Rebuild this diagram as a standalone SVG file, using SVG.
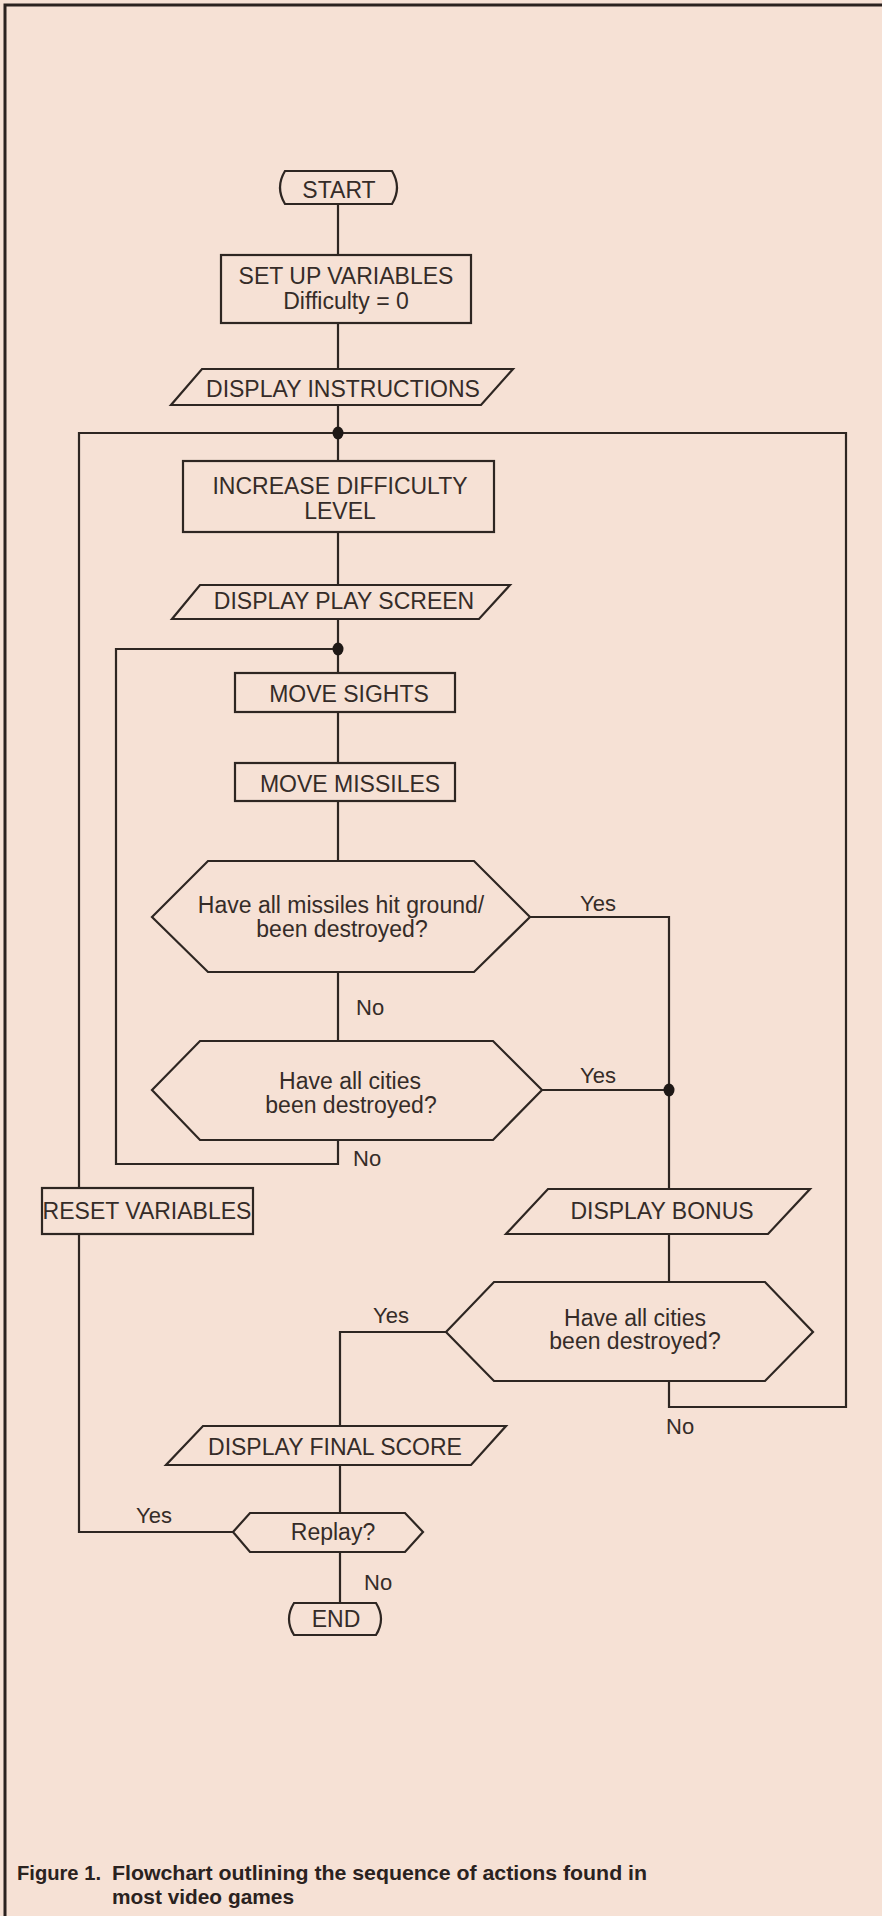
<svg xmlns="http://www.w3.org/2000/svg" width="882" height="1916" viewBox="0 0 882 1916">
<style>
.bg{fill:#f6e1d5}
.shape{fill:none;stroke:#2e2622;stroke-width:2.2;stroke-linejoin:miter}
.conn{fill:none;stroke:#2e2622;stroke-width:2.2}
.dot{fill:#1e1816}
.t{font-family:"Liberation Sans",Arial,sans-serif;font-size:23px;fill:#352c28;text-anchor:middle}
.lbl{font-family:"Liberation Sans",Arial,sans-serif;font-size:22px;fill:#352c28}
.cap{font-family:"Liberation Sans",Arial,sans-serif;font-size:21px;font-weight:bold;fill:#2a2220}
.frame{fill:none;stroke:#2a2220;stroke-width:3}
</style>
<rect class="bg" x="0" y="0" width="882" height="1916"/>
<path class="frame" d="M5,1916 V5 H882"/>

<g id="connectors">
  <path class="conn" d="M338,204 V255"/>
  <path class="conn" d="M338,323 V369"/>
  <path class="conn" d="M338,405 V461"/>
  <path class="conn" d="M338,532 V585"/>
  <path class="conn" d="M338,619 V673"/>
  <path class="conn" d="M338,712 V763"/>
  <path class="conn" d="M338,801 V861"/>
  <path class="conn" d="M338,972 V1041"/>
  <path class="conn" d="M338,1140 V1164 H116 V649 H338"/>
  <path class="conn" d="M530,917 H669 V1189"/>
  <path class="conn" d="M542,1090 H669"/>
  <path class="conn" d="M669,1234 V1282"/>
  <path class="conn" d="M669,1381 V1407 H846 V433 H79 V1188"/>
  <path class="conn" d="M79,1234 V1532 H233"/>
  <path class="conn" d="M446,1332 H340 V1426"/>
  <path class="conn" d="M340,1465 V1513"/>
  <path class="conn" d="M340,1552 V1603"/>
  <ellipse class="dot" cx="338" cy="433" rx="5.5" ry="6.5"/>
  <ellipse class="dot" cx="338" cy="649" rx="5.5" ry="6.5"/>
  <ellipse class="dot" cx="669" cy="1090" rx="5.5" ry="6.5"/>
  <text class="lbl" x="356" y="1015">No</text>
  <text class="lbl" x="353" y="1166">No</text>
  <text class="lbl" x="580" y="911">Yes</text>
  <text class="lbl" x="580" y="1083">Yes</text>
  <text class="lbl" x="666" y="1434">No</text>
  <text class="lbl" x="373" y="1323">Yes</text>
  <text class="lbl" x="136" y="1523">Yes</text>
  <text class="lbl" x="364" y="1590">No</text>
</g>

<g id="start">
  <path class="shape" d="M285,171 H392 Q402,187.5 392,204 H285 Q275,187.5 285,171 Z"/>
  <text class="t" x="339" y="198">START</text>
</g>
<g id="setup">
  <rect class="shape" x="221" y="255" width="250" height="68"/>
  <text class="t" x="346" y="284">SET UP VARIABLES</text>
  <text class="t" x="346" y="309">Difficulty = 0</text>
</g>
<g id="display-instructions">
  <polygon class="shape" points="202,369 513,369 481,405 171,405"/>
  <text class="t" x="343" y="397">DISPLAY INSTRUCTIONS</text>
</g>
<g id="increase-difficulty">
  <rect class="shape" x="183" y="461" width="311" height="71"/>
  <text class="t" x="340" y="494">INCREASE DIFFICULTY</text>
  <text class="t" x="340" y="519">LEVEL</text>
</g>
<g id="display-play-screen">
  <polygon class="shape" points="200,585 510,585 479,619 172,619"/>
  <text class="t" x="344" y="609">DISPLAY PLAY SCREEN</text>
</g>
<g id="move-sights">
  <rect class="shape" x="235" y="673" width="220" height="39"/>
  <text class="t" x="349" y="702">MOVE SIGHTS</text>
</g>
<g id="move-missiles">
  <rect class="shape" x="235" y="763" width="220" height="38"/>
  <text class="t" x="350" y="792">MOVE MISSILES</text>
</g>
<g id="missiles-done">
  <polygon class="shape" points="152,917 208,861 474,861 530,917 474,972 208,972"/>
  <text class="t" x="341" y="913">Have all missiles hit ground/</text>
  <text class="t" x="342" y="937">been destroyed?</text>
</g>
<g id="cities-destroyed-1">
  <polygon class="shape" points="152,1090 200,1041 493,1041 542,1090 493,1140 200,1140"/>
  <text class="t" x="350" y="1089">Have all cities</text>
  <text class="t" x="351" y="1113">been destroyed?</text>
</g>
<g id="reset-variables">
  <rect class="shape" x="42" y="1188" width="211" height="46"/>
  <text class="t" x="147" y="1219">RESET VARIABLES</text>
</g>
<g id="display-bonus">
  <polygon class="shape" points="548,1189 810,1189 768,1234 506,1234"/>
  <text class="t" x="662" y="1219">DISPLAY BONUS</text>
</g>
<g id="cities-destroyed-2">
  <polygon class="shape" points="446,1332 494,1282 765,1282 813,1332 765,1381 494,1381"/>
  <text class="t" x="635" y="1326">Have all cities</text>
  <text class="t" x="635" y="1349">been destroyed?</text>
</g>
<g id="display-final-score">
  <polygon class="shape" points="203,1426 506,1426 471,1465 166,1465"/>
  <text class="t" x="335" y="1455">DISPLAY FINAL SCORE</text>
</g>
<g id="replay">
  <polygon class="shape" points="233,1532 250,1513 405,1513 423,1532 405,1552 250,1552"/>
  <text class="t" x="333" y="1540">Replay?</text>
</g>
<g id="end">
  <path class="shape" d="M294,1603 H376 Q386,1619 376,1635 H294 Q284,1619 294,1603 Z"/>
  <text class="t" x="336" y="1627">END</text>
</g>

<g id="caption">
  <text class="cap" x="17" y="1880" textLength="84" lengthAdjust="spacingAndGlyphs">Figure 1.</text>
  <text class="cap" x="112" y="1880" textLength="535" lengthAdjust="spacingAndGlyphs">Flowchart outlining the sequence of actions found in</text>
  <text class="cap" x="112" y="1904" textLength="182" lengthAdjust="spacingAndGlyphs">most video games</text>
</g>
</svg>
